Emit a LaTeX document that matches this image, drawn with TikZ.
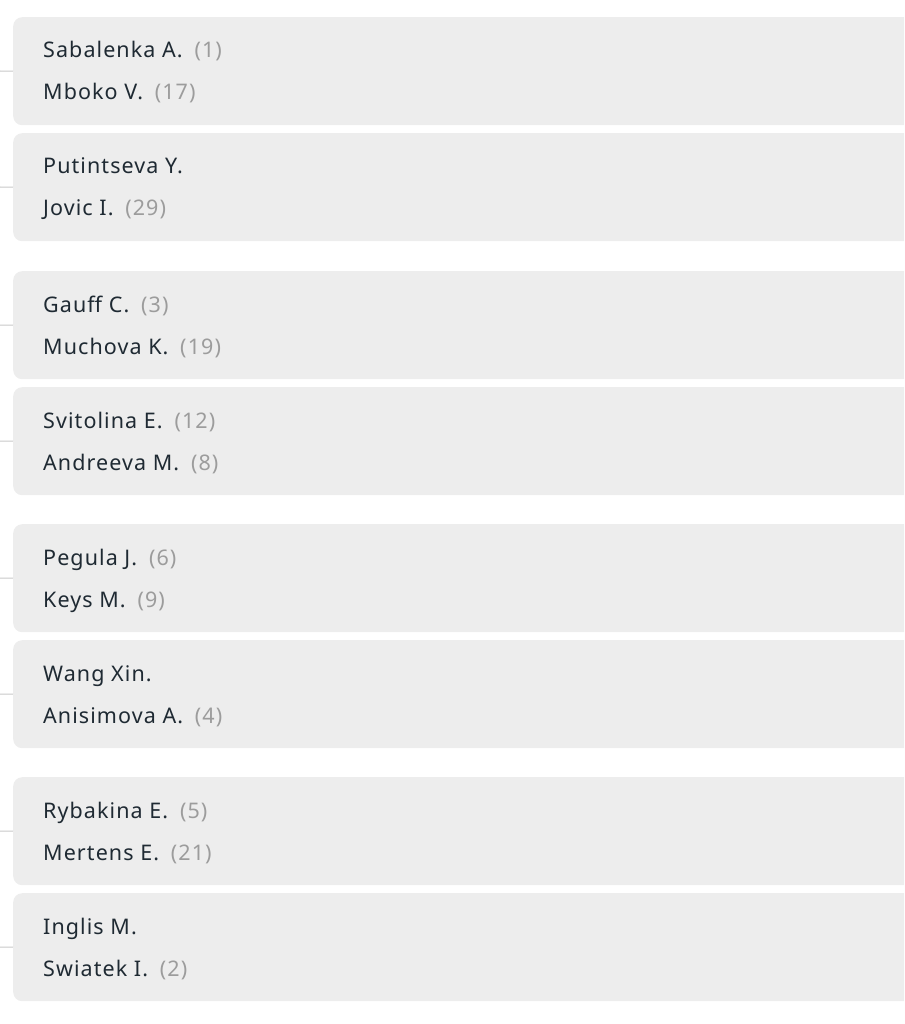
\documentclass[tikz,border=0pt]{standalone}
\usepackage{fontspec}
\setmainfont{Noto Sans}[LetterSpace=5]
\definecolor{boxgray}{HTML}{EDEDED}
\definecolor{namecol}{HTML}{1F2A33}
\definecolor{seedcol}{HTML}{9C9C9C}
\definecolor{linecol}{HTML}{C8C8C8}
\tikzset{
  matchbox/.style={fill=boxgray, rounded corners=9pt, minimum width=940pt, minimum height=108pt, inner sep=0pt, anchor=north west},
  player/.style={anchor=base west, inner sep=0pt, text=namecol, font=\fontsize{21.5}{25}\selectfont},
  feed/.style={draw=linecol, line width=1pt},
}
\newcommand{\sd}[1]{\hspace{0.55em}{\color{seedcol}(#1)}}
\begin{document}
\begin{tikzpicture}[x=1pt,y=-1pt]
\useasboundingbox (0,0) rectangle (904,1024);
\clip (0,0) rectangle (904,1024);
\foreach \i/\t/\a/\b in {
  1/17/{Sabalenka A.\sd{1}}/{Mboko V.\sd{17}},
  2/133/{Putintseva Y.}/{Jovic I.\sd{29}},
  3/271/{Gauff C.\sd{3}}/{Muchova K.\sd{19}},
  4/387/{Svitolina E.\sd{12}}/{Andreeva M.\sd{8}},
  5/524/{Pegula J.\sd{6}}/{Keys M.\sd{9}},
  6/640/{Wang Xin.}/{Anisimova A.\sd{4}},
  7/777/{Rybakina E.\sd{5}}/{Mertens E.\sd{21}},
  8/893/{Inglis M.}/{Swiatek I.\sd{2}}}{
  \node[matchbox] (m\i) at (13,\t) {};
  \node[player] (m\i a) at ([xshift=30pt,yshift=-41pt]m\i.north west) {\a};
  \node[player] (m\i b) at ([xshift=30pt,yshift=-83pt]m\i.north west) {\b};
  \coordinate (f\i) at (0,\t+54);
  \draw[feed] (f\i) -- (m\i.west);
}
\end{tikzpicture}
\end{document}
